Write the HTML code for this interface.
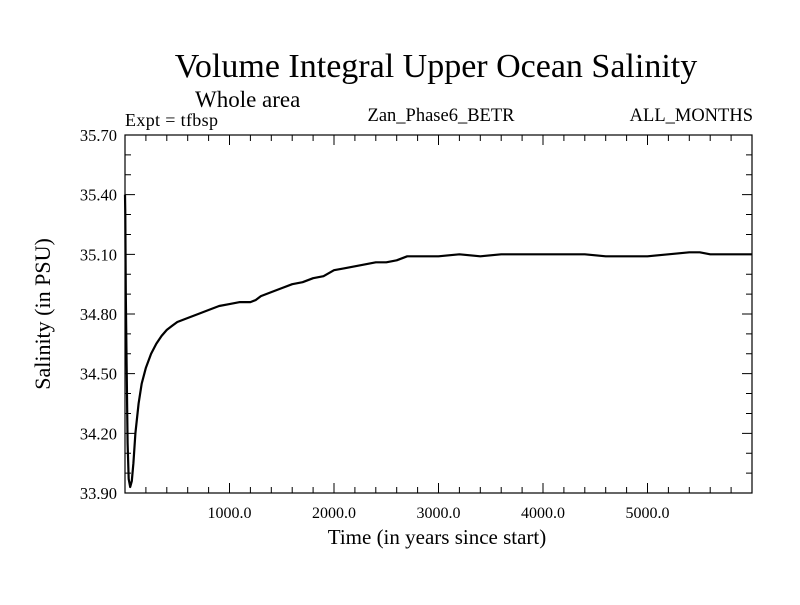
<!DOCTYPE html>
<html><head><meta charset="utf-8"><style>
body{margin:0;background:#fff}
svg text{font-family:"Liberation Serif",serif;fill:#000}
</style></head><body>
<svg id="c" width="800" height="600" xmlns="http://www.w3.org/2000/svg">
<text x="436" y="77" font-size="34" text-anchor="middle">Volume Integral Upper Ocean Salinity</text>
<text x="195" y="107" font-size="23">Whole area</text>
<text x="125" y="126" font-size="18" textLength="93">Expt = tfbsp</text>
<text x="441" y="121" font-size="18.5" text-anchor="middle">Zan_Phase6_BETR</text>
<text x="753" y="121" font-size="18.5" text-anchor="end">ALL_MONTHS</text>
<text transform="translate(50,314) rotate(-90)" font-size="22" text-anchor="middle">Salinity (in PSU)</text>
<text x="437" y="544" font-size="21" text-anchor="middle">Time (in years since start)</text>
<g id="axes"></g>
<rect x="125" y="135" width="627" height="358" fill="none" stroke="#000" stroke-width="1.2"/>
</svg>
<script>
const years=[0,3,8,15,25,35,50,65,80,100,130,160,200,250,300,350,400,450,500,600,700,800,900,1000,1100,1200,1250,1300,1400,1500,1600,1700,1800,1900,2000,2100,2200,2300,2400,2500,2600,2700,2800,2900,3000,3200,3400,3600,3800,4000,4200,4400,4600,4800,5000,5200,5400,5500,5600,5800,6000];
const salinity=[35.40,35.30,34.90,34.55,34.15,33.97,33.93,33.96,34.05,34.20,34.35,34.45,34.53,34.60,34.65,34.69,34.72,34.74,34.76,34.78,34.80,34.82,34.84,34.85,34.86,34.86,34.87,34.89,34.91,34.93,34.95,34.96,34.98,34.99,35.02,35.03,35.04,35.05,35.06,35.06,35.07,35.09,35.09,35.09,35.09,35.10,35.09,35.10,35.10,35.10,35.10,35.10,35.09,35.09,35.09,35.10,35.11,35.11,35.10,35.10,35.10];
const yTicks=[33.90,34.20,34.50,34.80,35.10,35.40,35.70];
const xTicks=[1000,2000,3000,4000,5000];
const L=125,R=752,T=135,B=493,X0=0,X1=6000,Y0=33.9,Y1=35.7;
const sx=v=>L+(v-X0)/(X1-X0)*(R-L);
const sy=v=>B-(v-Y0)/(Y1-Y0)*(B-T);
const NS="http://www.w3.org/2000/svg";
const svg=document.getElementById('c'),g=document.getElementById('axes');
function mk(t,a){const e=document.createElementNS(NS,t);for(const k in a)e.setAttribute(k,a[k]);return e;}
let d="";
for(let v=Y0;v<=Y1+1e-6;v+=0.1){const y=sy(v),major=Math.abs(((v-Y0)/0.3)-Math.round((v-Y0)/0.3))<1e-6,len=major?10:6;
d+=`M${L} ${y}h${len}M${R} ${y}h${-len}`;}
for(let v=200;v<X1;v+=200){const x=sx(v),major=v%1000===0,len=major?10:6;d+=`M${x} ${B}v${-len}M${x} ${T}v${len}`;}
const tk=mk('path',{d:d,stroke:'#000','stroke-width':1,fill:'none'});


g.appendChild(tk);
yTicks.forEach(v=>{const t=mk('text',{x:117,y:sy(v)+6,'font-size':16.5,'text-anchor':'end'});t.textContent=v.toFixed(2);


g.appendChild(t);});
xTicks.forEach(v=>{const t=mk('text',{x:sx(v),y:518,'font-size':16,'text-anchor':'middle'});t.textContent=v.toFixed(1);


g.appendChild(t);});
const pts=years.map((v,i)=>sx(v).toFixed(1)+','+sy(salinity[i]).toFixed(1)).join(' ');
const line=mk('polyline',{points:pts,fill:'none',stroke:'#000','stroke-width':2.2,'stroke-linejoin':'round'});


g.appendChild(line);
</script>
</body></html>
